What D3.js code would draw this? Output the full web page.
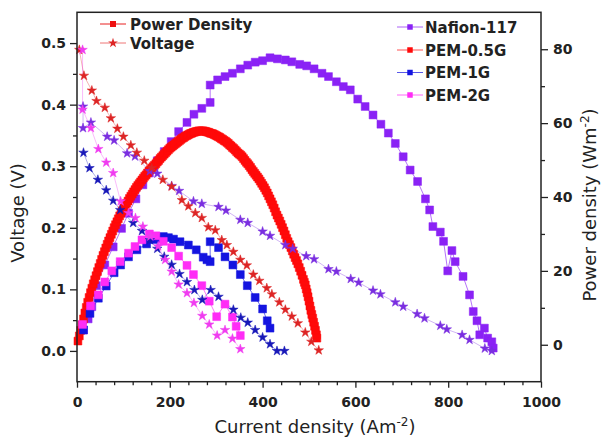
<!DOCTYPE html>
<html><head><meta charset="utf-8">
<script src="https://cdn.jsdelivr.net/npm/d3@7"></script>
<style>body{margin:0;background:#fff} svg{display:block}</style>
</head><body><svg id="c" width="602" height="439"></svg>
<script>
// ---------- DATA ----------
const xTicks = [0, 200, 400, 600, 800, 1000];
const yLeftTicks = [0.0, 0.1, 0.2, 0.3, 0.4, 0.5];
const yRightTicks = [0, 20, 40, 60, 80];
const seriesNames = ["Nafion-117", "PEM-0.5G", "PEM-1G", "PEM-2G"];

// Voltage (stars, left axis)
const nafionVI = [13, 13, 30, 65, 80, 108, 125, 157, 173, 204, 220, 251, 269, 305, 321, 352, 368, 400, 416, 449, 465, 494, 511, 542, 559, 590, 607, 638, 654, 686, 703, 733, 749, 783, 797, 830, 846, 879, 894];
const nafionV = [0.397, 0.362, 0.371, 0.348, 0.342, 0.321, 0.316, 0.292, 0.288, 0.268, 0.260, 0.243, 0.239, 0.234, 0.228, 0.213, 0.208, 0.194, 0.187, 0.172, 0.166, 0.154, 0.149, 0.133, 0.129, 0.117, 0.111, 0.098, 0.092, 0.079, 0.072, 0.060, 0.053, 0.041, 0.035, 0.026, 0.018, 0.004, 0.000];
const pem05VI = [5, 15, 32, 42, 60, 73, 87, 100, 116, 129, 145, 161, 185, 204, 226, 240, 255, 269, 283, 298, 312, 323, 337, 352, 366, 380, 393, 409, 420, 436, 449, 463, 476, 492, 505, 521];
const pem05V = [0.489, 0.447, 0.423, 0.406, 0.395, 0.378, 0.361, 0.348, 0.334, 0.322, 0.309, 0.297, 0.278, 0.267, 0.245, 0.235, 0.224, 0.216, 0.201, 0.196, 0.180, 0.172, 0.161, 0.148, 0.139, 0.124, 0.114, 0.102, 0.092, 0.079, 0.067, 0.056, 0.045, 0.030, 0.015, 0.001];
const pem1VI = [14, 27, 45, 63, 78, 93, 121, 140, 157, 173, 188, 204, 221, 237, 253, 270, 288, 305, 337, 353, 368, 384, 400, 416, 431, 447];
const pem1V = [0.322, 0.297, 0.278, 0.261, 0.244, 0.229, 0.208, 0.195, 0.180, 0.166, 0.153, 0.140, 0.125, 0.112, 0.099, 0.083, 0.099, 0.088, 0.067, 0.054, 0.046, 0.034, 0.022, 0.011, 0.000, 0.000];
const pem2VI = [12, 12, 30, 46, 63, 78, 94, 111, 126, 142, 158, 175, 190, 204, 219, 237, 252, 270, 285, 302, 319, 335, 352];
const pem2V = [0.489, 0.392, 0.362, 0.328, 0.306, 0.289, 0.243, 0.224, 0.216, 0.202, 0.186, 0.170, 0.148, 0.129, 0.108, 0.094, 0.078, 0.057, 0.043, 0.025, 0.034, 0.020, 0.003];

// Power density (squares, right axis)
const nafionPI = [14, 24, 32, 42, 60, 78, 96, 111, 127, 142, 156, 173, 188, 203, 219, 237, 252, 269, 287, 287, 303, 319, 335, 352, 368, 384, 400, 416, 432, 449, 463, 480, 495, 511, 528, 542, 559, 574, 589, 605, 621, 638, 655, 671, 686, 703, 718, 734, 751, 760, 767, 783, 790, 799, 808, 815, 832, 846, 854, 862, 868, 878, 885, 894, 897];
const nafionP = [4.0, 7.0, 10.3, 16.0, 21.6, 26.5, 31.5, 35.6, 39.5, 43.3, 46.5, 49.8, 52.3, 55.0, 57.7, 60.2, 62.4, 64.0, 65.6, 70.3, 71.7, 72.6, 73.5, 74.7, 75.7, 76.5, 76.9, 77.7, 77.4, 77.1, 76.6, 75.9, 75.5, 74.7, 73.5, 72.6, 71.2, 69.9, 69.0, 66.5, 64.5, 62.2, 59.7, 57.3, 54.5, 50.9, 47.3, 44.2, 39.5, 36.5, 32.0, 30.5, 28.0, 20.0, 25.5, 22.5, 18.5, 13.5, 9.0, 6.5, 2.7, 4.5, 1.8, 0.8, -0.9];
const pem05PI = [2, 5, 8, 11, 14, 17, 20, 23, 26, 29, 32, 35, 38, 41, 44, 47, 50, 53, 56, 59, 62, 65, 68, 71, 74, 77, 80, 83, 86, 89, 92, 95, 98, 101, 104, 107, 110, 113, 116, 119, 122, 125, 128, 131, 134, 137, 140, 143, 146, 149, 152, 155, 158, 161, 164, 167, 170, 173, 176, 179, 182, 185, 188, 191, 194, 197, 200, 203, 206, 209, 212, 215, 218, 221, 224, 227, 230, 233, 236, 239, 242, 245, 248, 251, 254, 257, 260, 263, 266, 269, 272, 275, 278, 281, 284, 287, 290, 293, 296, 299, 302, 305, 308, 311, 314, 317, 320, 323, 326, 329, 332, 335, 338, 341, 344, 347, 350, 353, 356, 359, 362, 365, 368, 371, 374, 377, 380, 383, 386, 389, 392, 395, 398, 401, 404, 407, 410, 413, 416, 419, 422, 425, 428, 431, 434, 437, 440, 443, 446, 449, 452, 455, 458, 461, 464, 467, 470, 473, 476, 479, 482, 485, 488, 490, 492, 494, 496, 498, 500, 502, 504, 506, 508, 510, 512, 514, 516, 517];
const pem05P = [1.0, 2.4, 3.9, 5.4, 7.0, 8.6, 10.1, 11.5, 12.8, 14.1, 15.3, 16.5, 17.6, 18.7, 19.8, 20.9, 22.0, 23.1, 24.2, 25.2, 26.2, 27.2, 28.1, 29.0, 29.9, 30.8, 31.7, 32.5, 33.3, 34.1, 34.9, 35.6, 36.3, 37.0, 37.7, 38.3, 38.9, 39.6, 40.2, 40.8, 41.4, 42.0, 42.6, 43.1, 43.6, 44.1, 44.6, 45.1, 45.6, 46.0, 46.5, 47.0, 47.4, 47.8, 48.2, 48.6, 49.0, 49.5, 49.9, 50.4, 50.8, 51.2, 51.6, 52.0, 52.4, 52.8, 53.2, 53.5, 53.8, 54.1, 54.4, 54.7, 55.0, 55.3, 55.6, 55.9, 56.1, 56.4, 56.6, 56.8, 57.0, 57.2, 57.3, 57.5, 57.6, 57.7, 57.8, 57.9, 57.9, 57.9, 57.9, 57.8, 57.7, 57.6, 57.5, 57.3, 57.2, 57.1, 56.9, 56.7, 56.5, 56.3, 56.1, 55.8, 55.6, 55.3, 55.1, 54.8, 54.5, 54.1, 53.8, 53.4, 53.1, 52.7, 52.3, 51.9, 51.6, 51.3, 50.9, 50.4, 49.9, 49.4, 49.0, 48.5, 48.0, 47.4, 46.9, 46.4, 45.9, 45.4, 44.9, 44.3, 43.7, 43.1, 42.5, 41.8, 41.1, 40.3, 39.5, 38.7, 37.9, 37.0, 36.0, 35.1, 34.3, 33.5, 32.6, 31.7, 30.8, 29.8, 28.8, 27.9, 27.1, 26.3, 25.4, 24.5, 23.6, 22.8, 21.9, 20.9, 19.9, 18.8, 17.7, 16.9, 16.2, 15.1, 14.1, 13.0, 11.8, 10.5, 9.3, 8.2, 7.2, 6.1, 5.0, 3.9, 2.7, 1.8];
const pem1PI = [14, 28, 46, 63, 80, 94, 111, 129, 150, 165, 175, 186, 197, 208, 222, 240, 257, 272, 280, 287, 287, 305, 319, 336, 352, 367, 384, 400, 410, 416];
const pem1P = [4.0, 8.5, 12.6, 15.9, 19.5, 21.6, 23.8, 25.7, 27.3, 28.5, 28.8, 29.3, 29.0, 28.6, 27.9, 27.0, 25.7, 23.7, 23.0, 22.5, 27.9, 26.3, 23.8, 21.6, 19.0, 16.0, 12.8, 9.7, 6.5, 4.5];
const pem2PI = [12, 29, 46, 60, 75, 93, 111, 125, 140, 156, 170, 186, 204, 219, 237, 251, 269, 285, 301, 319, 335, 343, 352];
const pem2P = [5.5, 10.5, 13.5, 17.0, 20.0, 22.5, 24.8, 26.6, 28.4, 30.0, 29.5, 28.0, 26.3, 24.0, 21.5, 19.0, 16.0, 11.8, 7.6, 11.0, 7.5, 5.0, 2.5];

// ---------- CHART ----------
const svg = d3.select("#c");
const L = 77, R = 541, T = 12.3, B = 381.7;
const x = d3.scaleLinear().domain([0, 1000]).range([L, R]);
const yL = d3.scaleLinear().domain([-0.05, 0.55]).range([B, T]);
const yR = d3.scaleLinear().domain([-10, 90]).range([B, T]);

const colSq = { "Nafion-117": "#8a22f5", "PEM-0.5G": "#ff0a0a", "PEM-1G": "#1414e0", "PEM-2G": "#ff2cf6" };
const colSt = { "Nafion-117": "#7a2ee0", "PEM-0.5G": "#dd2525", "PEM-1G": "#1818b8", "PEM-2G": "#f03cf0" };

const voltSets = [[nafionVI, nafionV], [pem05VI, pem05V], [pem1VI, pem1V], [pem2VI, pem2V]];
const powSets = [[nafionPI, nafionP], [pem05PI, pem05P], [pem1PI, pem1P], [pem2PI, pem2P]];

const sq = d3.symbol().type(d3.symbolSquare).size(62);
const st = d3.symbol().type(d3.symbolStar).size(28);

const plot = svg.append("g");
// connecting lines
powSets.forEach((s, k) => {
  const pts = s[0].map((v, i) => [v, s[1][i]]);
  plot.append("path").attr("d", d3.line().x(d => x(d[0])).y(d => yR(d[1]))(pts))
    .attr("fill", "none").attr("stroke", colSq[seriesNames[k]]).attr("stroke-width", 0.8).attr("opacity", 0.8);
});
voltSets.forEach((s, k) => {
  const pts = s[0].map((v, i) => [v, s[1][i]]);
  plot.append("path").attr("d", d3.line().x(d => x(d[0])).y(d => yL(d[1]))(pts))
    .attr("fill", "none").attr("stroke", colSt[seriesNames[k]]).attr("stroke-width", 0.7).attr("opacity", 0.5);
});
// markers: power squares
powSets.forEach((s, k) => {
  const c = colSq[seriesNames[k]];
  plot.append("g").selectAll("path").data(s[0].map((v, i) => [v, s[1][i]])).join("path")
    .attr("d", sq).attr("transform", d => `translate(${x(d[0])},${yR(d[1])})`)
    .attr("fill", c).attr("stroke", c).attr("stroke-width", 0.5);
});
// markers: voltage stars
voltSets.forEach((s, k) => {
  const c = colSt[seriesNames[k]];
  plot.append("g").selectAll("path").data(s[0].map((v, i) => [v, s[1][i]])).join("path")
    .attr("d", st).attr("transform", d => `translate(${x(d[0])},${yL(d[1])})`)
    .attr("fill", c).attr("stroke", c).attr("stroke-width", 0.5);
});

// ---------- AXES ----------
const tickFont = "DejaVu Sans";
function styleAxis(g) {
  g.select(".domain").remove();
  g.selectAll("line").attr("stroke", "#222").attr("stroke-width", 1.3);
  g.selectAll("text").attr("font-family", tickFont).attr("font-weight", "bold").attr("font-size", 14).attr("fill", "#222");
}
// frame
svg.append("rect").attr("x", L).attr("y", T).attr("width", R - L).attr("height", B - T)
  .attr("fill", "none").attr("stroke", "#222").attr("stroke-width", 1.5);

const xMinor = d3.range(40, 1000, 40).filter(v => v % 200 !== 0);
svg.append("g").attr("transform", `translate(0,${B})`)
  .call(d3.axisBottom(x).tickValues(xTicks).tickSize(6).tickPadding(9).tickFormat(d3.format("d"))).call(styleAxis);
svg.append("g").attr("transform", `translate(0,${B})`)
  .call(d3.axisBottom(x).tickValues(xMinor).tickSize(3.5).tickFormat("")).call(styleAxis);

const yLMinor = [0.05, 0.15, 0.25, 0.35, 0.45];
svg.append("g").attr("transform", `translate(${L},0)`)
  .call(d3.axisLeft(yL).tickValues(yLeftTicks).tickSize(7).tickPadding(4).tickFormat(d3.format(".1f"))).call(styleAxis);
svg.append("g").attr("transform", `translate(${L},0)`)
  .call(d3.axisLeft(yL).tickValues(yLMinor).tickSize(4).tickFormat("")).call(styleAxis);

const yRMinor = [10, 30, 50, 70];
svg.append("g").attr("transform", `translate(${R},0)`)
  .call(d3.axisRight(yR).tickValues(yRightTicks).tickSize(7).tickPadding(5).tickFormat(d3.format("d"))).call(styleAxis);
svg.append("g").attr("transform", `translate(${R},0)`)
  .call(d3.axisRight(yR).tickValues(yRMinor).tickSize(4).tickFormat("")).call(styleAxis);

// ---------- TITLES ----------
const tf = "DejaVu Sans";
const xt = svg.append("text").attr("x", (L + R) / 2 + 6).attr("y", 433).attr("text-anchor", "middle")
  .attr("font-family", tf).attr("font-size", 18).attr("fill", "#222");
xt.append("tspan").text("Current density (Am");
xt.append("tspan").text("-2").attr("font-size", 12).attr("dy", -7);
xt.append("tspan").text(")").attr("dy", 7);

svg.append("text").attr("transform", `translate(24,${(T + B) / 2 + 16}) rotate(-90)`).attr("text-anchor", "middle")
  .attr("font-family", tf).attr("font-size", 18).attr("fill", "#222").text("Voltage (V)");

const rt = svg.append("text").attr("transform", `translate(596,${(T + B) / 2 + 8}) rotate(-90)`).attr("text-anchor", "middle")
  .attr("font-family", tf).attr("font-size", 18).attr("fill", "#222");
rt.append("tspan").text("Power density (Wm");
rt.append("tspan").text("-2").attr("font-size", 12).attr("dy", -7);
rt.append("tspan").text(")").attr("dy", 7);

// ---------- LEGENDS ----------
const leg1 = svg.append("g");
[["Power Density", "sq", 24], ["Voltage", "st", 43]].forEach(([lab, m, yy]) => {
  leg1.append("line").attr("x1", 100).attr("x2", 126).attr("y1", yy).attr("y2", yy)
    .attr("stroke", m === "sq" ? "#e82020" : "#ee7777").attr("stroke-width", 1);
  leg1.append("path").attr("d", m === "sq" ? d3.symbol().type(d3.symbolSquare).size(36)() : d3.symbol().type(d3.symbolStar).size(30)())
    .attr("transform", `translate(113,${yy})`).attr("fill", m === "sq" ? "#ee1111" : "#dd2525");
  leg1.append("text").attr("x", 130).attr("y", yy + 5.5).attr("font-family", tf).attr("font-weight", "bold")
    .attr("font-size", 15).attr("fill", "#222").text(lab);
});

const leg2 = svg.append("g");
const legY = [27, 50, 72.5, 95];
seriesNames.forEach((n, i) => {
  const yy = legY[i];
  leg2.append("line").attr("x1", 397).attr("x2", 423).attr("y1", yy).attr("y2", yy)
    .attr("stroke", colSq[n]).attr("stroke-width", 1).attr("opacity", 0.7);
  leg2.append("path").attr("d", d3.symbol().type(d3.symbolSquare).size(30)())
    .attr("transform", `translate(410,${yy})`).attr("fill", colSq[n]);
  leg2.append("text").attr("x", 425).attr("y", yy + 5.5).attr("font-family", tf).attr("font-weight", "bold")
    .attr("font-size", 15).attr("fill", "#222").text(n);
});
</script></body></html>
